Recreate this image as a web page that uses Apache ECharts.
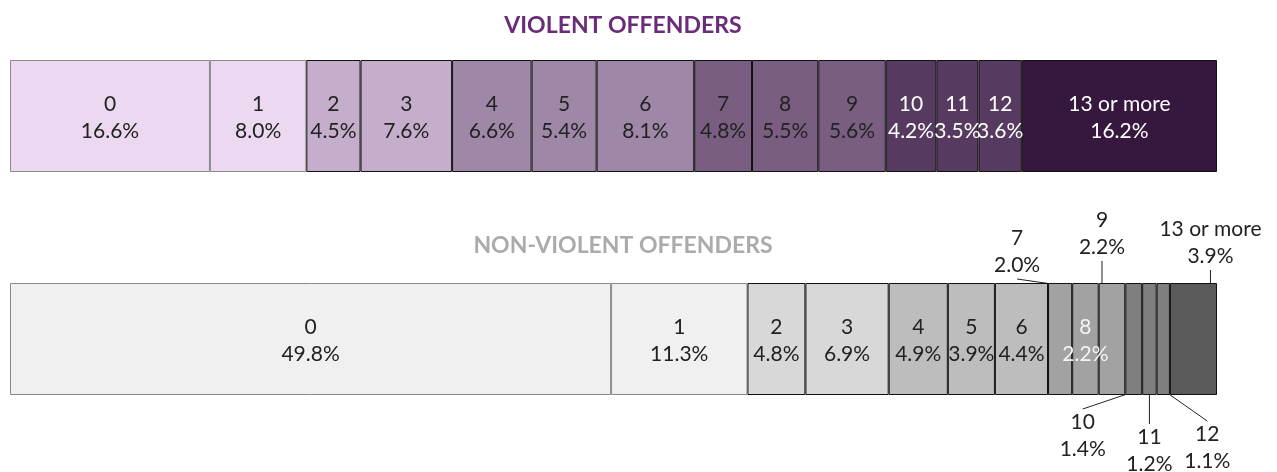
<!DOCTYPE html>
<html>
<head>
<meta charset="utf-8">
<script src="https://cdn.jsdelivr.net/npm/echarts@6/dist/echarts.min.js"></script>
<style>
  html, body { margin: 0; padding: 0; background: #fff; }
  #main { width: 1277px; height: 472px; }
</style>
</head>
<body>
<div id="main"></div>
<script>
var categories = ['0', '1', '2', '3', '4', '5', '6', '7', '8', '9', '10', '11', '12', '13 or more'];
var violent = [16.6, 8.0, 4.5, 7.6, 6.6, 5.4, 8.1, 4.8, 5.5, 5.6, 4.2, 3.5, 3.6, 16.2];
var nonViolent = [49.8, 11.3, 4.8, 6.9, 4.9, 3.9, 4.4, 2.0, 2.2, 2.2, 1.4, 1.2, 1.1, 3.9];

var purples = ['#ecd8f0', '#ecd8f0', '#c5aecb', '#c5aecb', '#9f87a7', '#9f87a7', '#9f87a7',
  '#7a5e82', '#7a5e82', '#7a5e82', '#573a5f', '#573a5f', '#573a5f', '#36183f'];
var greys = ['#f0f0f0', '#f0f0f0', '#d8d8d8', '#d8d8d8', '#bdbdbd', '#bdbdbd', '#bdbdbd',
  '#a2a2a2', '#a2a2a2', '#a2a2a2', '#7f7f7f', '#7f7f7f', '#7f7f7f', '#5a5a5a'];

// label offsets for the thin non-violent segments (moved outside the bar)
var outside = {
  7: [-43, -87],
  9: [-10, -105],
  10: [-51, 97],
  11: [0, 112],
  12: [44, 109],
  13: [17, -96]
};

var font = 'Lato, "Noto Sans", sans-serif';

function makeSeries(values, colors, idx, stackName, isViolent) {
  return values.map(function (v, i) {
    var light = i < 2;
    var textColor = '#222';
    if (isViolent && i >= 10) textColor = '#fff';
    if (!isViolent && i === 8) textColor = '#f4f4f4';
    var s = {
      type: 'bar',
      name: categories[i],
      stack: stackName,
      xAxisIndex: idx,
      yAxisIndex: idx,
      barWidth: '100%',
      silent: true,
      data: [v],
      itemStyle: {
        color: colors[i],
        borderColor: light ? '#8a8a8a' : '#111',
        borderWidth: 1
      },
      label: {
        show: true,
        position: 'inside',
        offset: [0, 2],
        fontFamily: font,
        fontSize: 21,
        lineHeight: 27,
        color: textColor,
        formatter: function (p) {
          return p.seriesName + '\n' + p.value.toFixed(1) + '%';
        }
      }
    };
    if (!isViolent && outside[i]) {
      s.labelLayout = { dx: outside[i][0], dy: outside[i][1] };
      s.labelLine = { show: true, lineStyle: { color: '#222', width: 1 } };
    }
    return s;
  });
}

var chartDom = document.getElementById('main');
var myChart = echarts.init(chartDom);
var option;

option = {
  animation: false,
  title: [
    {
      text: 'VIOLENT OFFENDERS',
      left: 618,
      top: 9,
      textAlign: 'center',
      textStyle: { fontFamily: font, fontSize: 23, fontWeight: 'bold', color: '#6a2c79' }
    },
    {
      text: 'NON-VIOLENT OFFENDERS',
      left: 618,
      top: 229,
      textAlign: 'center',
      textStyle: { fontFamily: font, fontSize: 23, fontWeight: 'bold', color: '#ababab' }
    }
  ],
  grid: [
    { left: 10, right: 60, top: 60, height: 112 },
    { left: 10, right: 60, top: 283, height: 112 }
  ],
  xAxis: [
    { type: 'value', gridIndex: 0, min: 0, max: 'dataMax', show: false },
    { type: 'value', gridIndex: 1, min: 0, max: 'dataMax', show: false }
  ],
  yAxis: [
    { type: 'category', gridIndex: 0, data: ['Violent'], show: false },
    { type: 'category', gridIndex: 1, data: ['Non-violent'], show: false }
  ],
  series: makeSeries(violent, purples, 0, 'violent', true)
    .concat(makeSeries(nonViolent, greys, 1, 'nonviolent', false))
};

option && myChart.setOption(option);
</script>
</body>
</html>
